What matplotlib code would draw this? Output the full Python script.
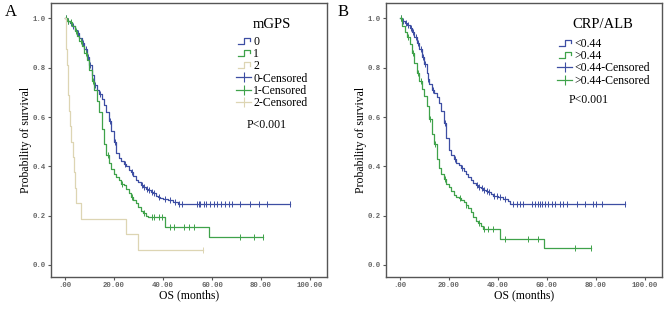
import numpy as np
import matplotlib
matplotlib.use("Agg")
import matplotlib.pyplot as plt
from matplotlib.lines import Line2D
from matplotlib.legend_handler import HandlerBase

# ---- Painel A: mGPS ----
a0_t = [1, 2, 3, 4, 5, 6, 7, 8, 9, 10, 11, 12, 13, 14, 15, 16, 17, 18, 19, 20, 21, 22,
        23, 24, 25, 26, 27, 28, 29, 30, 31, 32, 33, 34, 35, 36, 37, 38, 39, 40, 42, 44, 46]
a0_s = [0.99, 0.98, 0.97, 0.955, 0.94, 0.92, 0.90, 0.875, 0.845, 0.81, 0.77, 0.73, 0.71,
        0.695, 0.675, 0.65, 0.62, 0.585, 0.545, 0.50, 0.455, 0.435, 0.42, 0.41, 0.40, 0.385,
        0.375, 0.36, 0.345, 0.335, 0.325, 0.318, 0.31, 0.303, 0.297, 0.29, 0.28, 0.276,
        0.272, 0.268, 0.262, 0.256, 0.247]
a0_cens = [0.5, 1.5, 2.5, 3.5, 5.5, 7.5, 8.5, 9.5, 10.5, 12.5, 14.5, 18.5, 20.5, 24.5, 27.5,
           31.5, 32.5, 33.5, 34.5, 35.5, 36.5, 38.5, 41, 43, 45, 46.5, 47.9, 54, 54.7, 55.3,
           56.7, 57.4, 59.4, 60.7, 62.1, 63.5, 65.5, 66.8, 68.2, 71.6, 75.7, 79, 82.4, 91.9]

a1_t = [1, 2, 3, 4, 5, 6, 7, 8, 9, 10, 11, 12, 13, 14, 15, 16, 17, 18, 19, 20, 21, 22, 23,
        24, 25, 26, 27, 28, 29, 30, 31, 32, 33, 34, 41, 58.6]
a1_s = [0.99, 0.985, 0.97, 0.95, 0.93, 0.91, 0.89, 0.86, 0.83, 0.79, 0.745, 0.71, 0.665,
        0.62, 0.55, 0.49, 0.445, 0.415, 0.39, 0.37, 0.355, 0.345, 0.33, 0.325, 0.31, 0.29,
        0.275, 0.265, 0.25, 0.235, 0.22, 0.21, 0.20, 0.194, 0.155, 0.115]
a1_cens = [0.5, 1.5, 2.5, 4.5, 6.5, 8.5, 11.5, 17.5, 23.5, 27.5, 32.5, 35.5, 36.5, 38.3,
           39.7, 43.1, 44.5, 48.5, 50.6, 52.6, 71.6, 77, 81]

a2_t = [0.4, 0.7, 1.0, 1.2, 1.5, 1.8, 2.2, 2.7, 3.2, 3.7, 4.3, 4.7, 6.5, 25, 29.8]
a2_s = [0.9375, 0.875, 0.8125, 0.75, 0.6875, 0.625, 0.5625, 0.5, 0.4375, 0.375, 0.3125,
        0.25, 0.1875, 0.125, 0.0625]
a2_cens = [56.3]

# ---- Painel B: CRP/ALB ----
b0_t = [1, 2, 3, 4, 5, 6, 7, 8, 9, 10, 11, 11.5, 12, 13, 14, 15, 16, 17, 18, 19, 20, 21, 22,
        23, 24, 25, 26, 27, 28, 29, 30, 31, 32, 33, 34, 35, 36, 37, 38, 40, 42, 44, 45]
b0_s = [0.99, 0.983, 0.975, 0.96, 0.945, 0.925, 0.90, 0.875, 0.845, 0.815, 0.78, 0.755,
        0.735, 0.71, 0.697, 0.68, 0.656, 0.625, 0.575, 0.515, 0.465, 0.445, 0.43, 0.415,
        0.405, 0.392, 0.38, 0.368, 0.355, 0.343, 0.332, 0.325, 0.318, 0.312, 0.305, 0.3,
        0.294, 0.287, 0.28, 0.275, 0.268, 0.258, 0.249]
b0_cens = [0.5, 1.5, 2.5, 3.5, 4.5, 5.5, 6.5, 7.5, 8.5, 9.5, 10.5, 11.7, 13.5, 18.5, 22.5,
           25.5, 31.5, 32.5, 33.5, 34.5, 35.5, 36.5, 38.5, 39.5, 41, 43, 46.3, 47.7, 49.1,
           50.4, 53.8, 55.2, 56.5, 57.2, 57.8, 59.2, 60.6, 61.9, 63.3, 65.3, 66.7, 68.1,
           72.1, 75.5, 78.9, 80.2, 82.3, 91.7]

b1_t = [1, 2, 3, 4, 5, 6, 7, 8, 9, 10, 11, 12, 13, 14, 15, 16, 17, 18, 19, 20, 21, 22, 23,
        24, 25, 26, 27, 28, 29, 30, 31, 32, 33, 34, 41, 58.9]
b1_s = [0.97, 0.945, 0.925, 0.895, 0.86, 0.82, 0.78, 0.745, 0.715, 0.685, 0.645, 0.59,
        0.53, 0.49, 0.43, 0.395, 0.37, 0.35, 0.33, 0.315, 0.30, 0.285, 0.275, 0.27, 0.262,
        0.255, 0.245, 0.23, 0.215, 0.195, 0.18, 0.17, 0.158, 0.146, 0.104, 0.07]
b1_cens = [0.5, 3.5, 5.5, 7.5, 8.5, 12.5, 14.5, 18.5, 24.5, 27, 32.5, 34.5, 36, 38.2, 43,
           52.4, 56.2, 71.4, 77.9]

xticks = [0, 20, 40, 60, 80, 100]
xtick_labels = [".00", "20.00", "40.00", "60.00", "80.00", "100.00"]
yticks = [0.0, 0.2, 0.4, 0.6, 0.8, 1.0]

AZUL = "#3d4ea3"
VERDE = "#3fa24a"
BEGE = "#ddd5b3"
SERIF = "Liberation Serif"


class HandlerDegrau(HandlerBase):
    # desenha o pequeno icone em degrau do SPSS
    def create_artists(self, legend, orig_handle, xdescent, ydescent, width, height,
                       fontsize, trans):
        x0 = -xdescent
        y0 = -ydescent
        xs = [x0 + 0.1 * width, x0 + 0.5 * width, x0 + 0.5 * width, x0 + 0.9 * width,
              x0 + 0.9 * width]
        ys = [y0 + 0.15 * height, y0 + 0.15 * height, y0 + 0.85 * height,
              y0 + 0.85 * height, y0 + 0.45 * height]
        ln = Line2D(xs, ys, color=orig_handle.get_color(), lw=0.9)
        ln.set_transform(trans)
        return [ln]


def km_step(t, s):
    # curva de Kaplan-Meier em degraus, partindo de (0, 1)
    return np.r_[0, t], np.r_[1.0, s]


def surv_at(t, s, tc):
    tt, ss = km_step(t, s)
    idx = np.searchsorted(tt, tc, side="right") - 1
    return ss[idx]


def desenhar(ax, curvas, titulo, rotulos, p_pos, leg_anchor, sep_titulo):
    handles_deg = []
    handles_cen = []
    for (t, s, cens, cor) in curvas:
        tt, ss = km_step(t, s)
        fim = max(max(cens), tt[-1])
        tt = np.r_[tt, fim]
        ss = np.r_[ss, ss[-1]]
        ax.step(tt, ss, where="post", color=cor, lw=0.9)
        ax.plot(cens, surv_at(t, s, np.array(cens)), ls="none", marker="|",
                markersize=4.5, mew=0.7, color=cor)
        handles_deg.append(Line2D([], [], color=cor, lw=0.9))
        handles_cen.append(Line2D([], [], color=cor, lw=0.9, marker="|", markersize=7,
                                  mew=0.8))

    hs = handles_deg + handles_cen
    leg = ax.legend(hs, rotulos, title=titulo, loc="upper left",
                    bbox_to_anchor=leg_anchor, bbox_transform=ax.figure.transFigure,
                    frameon=False, handlelength=1.3, handletextpad=0.15,
                    labelspacing=0.02, borderpad=0, borderaxespad=0,
                    handler_map={h: HandlerDegrau() for h in handles_deg},
                    prop={"family": SERIF, "size": 8.5},
                    title_fontproperties={"family": SERIF, "size": 10.5})
    leg._legend_box.sep = sep_titulo

    ax.text(p_pos[0], p_pos[1], "P<0.001", transform=ax.figure.transFigure,
            family=SERIF, fontsize=8.5, ha="center", va="center")

    ax.set_xlim(-5.6, 106.9)
    ax.set_ylim(-0.049, 1.062)
    ax.set_xticks(xticks)
    ax.set_xticklabels(xtick_labels)
    ax.set_yticks(yticks)
    ax.set_yticklabels(["%.1f" % v for v in yticks])
    for lab in ax.get_xticklabels() + ax.get_yticklabels():
        lab.set_family("Liberation Mono")
        lab.set_fontweight("bold")
        lab.set_fontsize(5.3)
        lab.set_color("#666666")
    ax.tick_params(direction="out", length=2.5, width=0.8, color="#555555", pad=1)
    for sp in ax.spines.values():
        sp.set_color("#555555")
        sp.set_linewidth(1.0)
    ax.set_xlabel("OS (months)", family=SERIF, fontsize=8.5, labelpad=0.5)
    ax.set_ylabel("Probability of survival", family=SERIF, fontsize=8.5, labelpad=1)


fig = plt.figure(figsize=(6.64, 3.13), dpi=100)
axA = fig.add_axes([0.0768, 0.115, 0.4157, 0.875])
axB = fig.add_axes([0.5813, 0.115, 0.4157, 0.875])

desenhar(axA,
         [(a0_t, a0_s, a0_cens, AZUL), (a1_t, a1_s, a1_cens, VERDE), (a2_t, a2_s, a2_cens, BEGE)],
         "mGPS", ["0", "1", "2", "0-Censored", "1-Censored", "2-Censored"],
         (267 / 664, 1 - 125 / 313), (236 / 664, 1 - 18 / 313), 3.5)
desenhar(axB,
         [(b0_t, b0_s, b0_cens, AZUL), (b1_t, b1_s, b1_cens, VERDE)],
         "CRP/ALB", ["<0.44", ">0.44", "<0.44-Censored", ">0.44-Censored"],
         (589 / 664, 1 - 100 / 313), (557 / 664, 1 - 18 / 313), 5)

fig.text(5 / 664, 1 - 12 / 313, "A", family=SERIF, fontsize=12, va="center")
fig.text(338 / 664, 1 - 12 / 313, "B", family=SERIF, fontsize=12, va="center")

fig.savefig("out.png", dpi=100)
